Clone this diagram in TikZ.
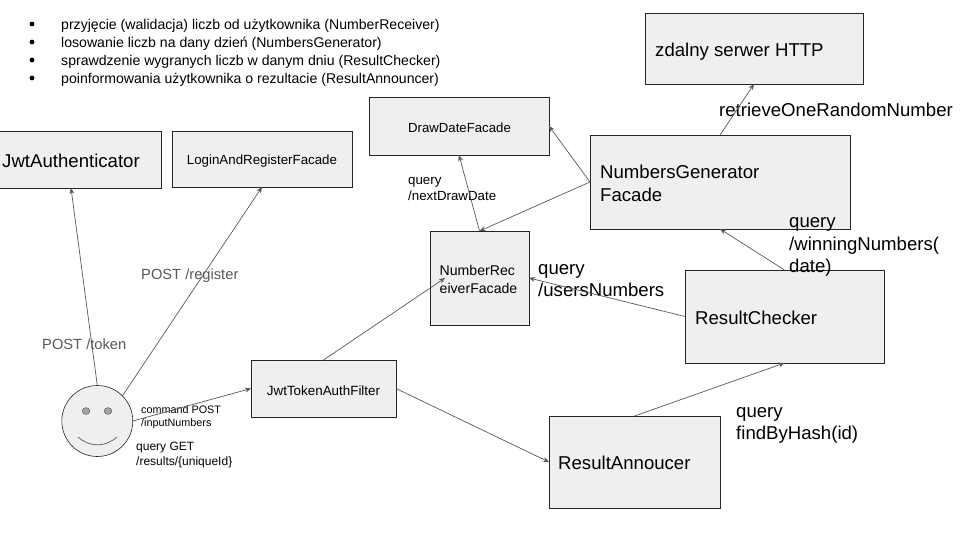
\documentclass[tikz,border=0pt]{standalone}
\usepackage{fontspec}
\setmainfont{Liberation Sans}
\usetikzlibrary{arrows.meta}
\definecolor{boxfill}{HTML}{EFEFEF}
\definecolor{gr}{HTML}{595959}
\tikzset{x=1pt,y=-1pt,
 bx/.style={draw=black!85,line width=0.6pt,fill=boxfill,inner sep=0pt,outer sep=0pt,anchor=north west},
 arr/.style={draw=gr,line width=0.7pt,-{Stealth[length=6pt,width=5pt]}},
 txt/.style={inner sep=0pt,align=left},
 big/.style={txt,font=\fontsize{18.6}{#1}\selectfont},
}
\begin{document}
\begin{tikzpicture}
\useasboundingbox (0,0) rectangle (960,540);
\fill[white] (0,0) rectangle (960,540);
% bullets
\foreach \yy/\tt in {24/{przyjęcie (walidacja) liczb od użytkownika (NumberReceiver)},42/{losowanie liczb na dany dzień (NumbersGenerator)},60/{sprawdzenie wygranych liczb w danym dniu (ResultChecker)},78/{poinformowania użytkownika o rezultacie (ResultAnnouncer)}}{
 \fill (32,\yy) circle (2.4pt);
 \node[anchor=west,inner sep=0pt,font=\fontsize{14.1}{14}\selectfont] at (61,\yy+1.5) {\tt};
}
\node[bx,minimum width=218pt,minimum height=71pt] (http) at (645,13) {};
\node[bx,minimum width=180pt,minimum height=58pt] (draw) at (369,97) {};
\node[bx,minimum width=260pt,minimum height=94pt] (gen) at (590,135) {};
\node[bx,minimum width=167pt,minimum height=57pt] (jwt) at (-6,131) {};
\node[bx,minimum width=180pt,minimum height=56pt] (login) at (172,131) {};
\node[bx,minimum width=99pt,minimum height=94pt] (recv) at (430,231) {};
\node[bx,minimum width=199pt,minimum height=93pt] (chk) at (685,270) {};
\node[bx,minimum width=145pt,minimum height=57pt] (filter) at (251,360) {};
\node[bx,minimum width=171pt,minimum height=92pt] (ann) at (549,416) {};
\node[draw=black!85,line width=0.6pt,fill=boxfill,circle,minimum size=71pt,inner sep=0pt,outer sep=0pt] (face) at (97.3,421) {};
\fill[gr!55!white,draw=gr,line width=0.5pt] (86,411) ellipse (3.8pt and 3.4pt) (108,411) ellipse (3.8pt and 3.4pt);
\draw[gr,line width=0.7pt] (78,437) .. controls (90,447.5) and (105,447.5) .. (117,437);
% text
\node[big=18,anchor=west] (thttp) at (655,51.5) {zdalny serwer HTTP};
\node[txt,font=\fontsize{13.2}{13}\selectfont] (tdraw) at (459.5,127.5) {DrawDateFacade};
\node[big=23,anchor=west] (tgen) at (600,183) {NumbersGenerator\\Facade};
\node[big=18] (tjwt) at (71,161) {JwtAuthenticator};
\node[txt,font=\fontsize{13.3}{13}\selectfont] (tlogin) at (262,161.5) {LoginAndRegisterFacade};
\node[txt,anchor=west,font=\fontsize{14.1}{18}\selectfont] (trecv) at (439.5,279) {NumberRec\\eiverFacade};
\node[big=18,anchor=west] (tchk) at (695,318) {ResultChecker};
\node[txt,font=\fontsize{13.4}{13}\selectfont] (tfilter) at (323.5,390.5) {JwtTokenAuthFilter};
\node[big=18,anchor=west] (tann) at (558,463) {ResultAnnoucer};
% labels
\node[anchor=west,inner sep=0pt,text=gr,font=\fontsize{14.7}{14}\selectfont] (l1) at (42,344) {POST /token};
\node[anchor=west,inner sep=0pt,text=gr,font=\fontsize{14.7}{14}\selectfont] (l2) at (141,276) {POST /register};
\node[txt,anchor=west,font=\fontsize{10.8}{13}\selectfont] (l3) at (141,417.5) {command POST\\/inputNumbers};
\node[txt,anchor=west,font=\fontsize{12}{15}\selectfont] (l4) at (136,455.5) {query GET\\/results/\{uniqueId\}};
\node[txt,anchor=west,font=\fontsize{13.3}{16}\selectfont] (l5) at (408,189) {query\\/nextDrawDate};
\node[big=22,anchor=west] (l6) at (538,281) {query\\/usersNumbers};
\node[big=22.5,anchor=west] (l7) at (789,247) {query\\/winningNumbers(\\date)};
\node[big=18,anchor=west] (l8) at (719,110) {retrieveOneRandomNumber};
\node[big=22,anchor=west] (l9) at (736,425) {query\\findByHash(id)};
% connectors
\draw[arr] (face.north) -- ([xshift=-6.5pt]jwt.south);
\draw[arr] (face.45) -- (login.south);
\draw[arr] (face.east) -- (filter.west);
\draw[arr] (filter.north) -- ([xshift=15pt]recv.west);
\draw[arr] (filter.east) -- (ann.west);
\draw[arr] (ann.north) -- (chk.south);
\draw[arr] (chk.west) -- (recv.east);
\draw[arr] (chk.north) -- (gen.south);
\draw[arr] (gen.west) -- (recv.north);
\draw[arr] (gen.west) -- (draw.east);
\draw[arr] (recv.north) -- (draw.south);
\draw[arr] (gen.north) -- (http.south);
\end{tikzpicture}
\end{document}
